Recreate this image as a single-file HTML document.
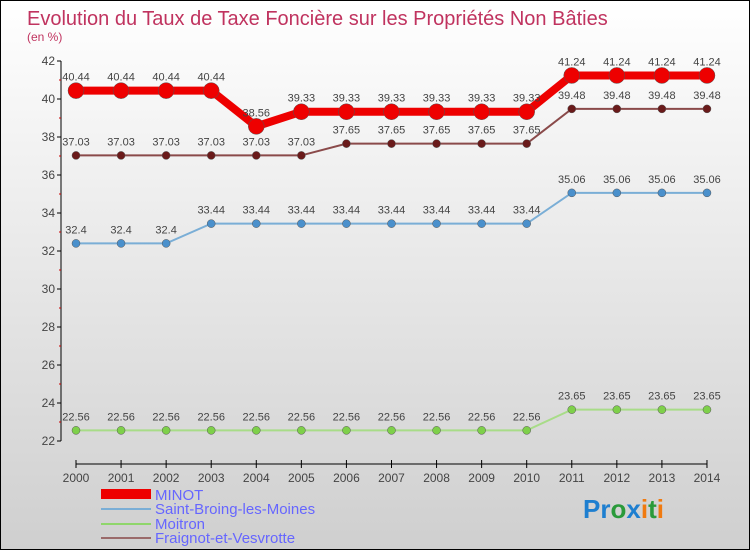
<!DOCTYPE html>
<html><head><meta charset="utf-8"><style>
body{margin:0}
#wrap{position:relative;width:748px;height:548px;border:1px solid #000;background:linear-gradient(#fff,#cfcfcf);font-family:"Liberation Sans",sans-serif;overflow:hidden}
svg text{font-family:"Liberation Sans",sans-serif}
</style></head><body>
<div id="wrap">
<svg id="chart" width="748" height="548">
<text x="26" y="24" font-size="20" fill="#c0335f">Evolution du Taux de Taxe Foncière sur les Propriétés Non Bâties</text>
<text x="26" y="40" font-size="12" fill="#c0335f">(en %)</text>
<g id="axes"></g><g id="series"></g>
<g>
<rect x="100" y="488" width="50" height="10" fill="#e00"/>
<text x="154" y="499" font-size="15" fill="#66f">MINOT</text>
<line x1="100" y1="508" x2="150" y2="508" stroke="#7aaed6" stroke-width="2"/>
<text x="154" y="513" font-size="15" fill="#66f">Saint-Broing-les-Moines</text>
<line x1="100" y1="523" x2="150" y2="523" stroke="#8fd66b" stroke-width="2"/>
<text x="154" y="528" font-size="15" fill="#66f">Moitron</text>
<line x1="100" y1="537" x2="150" y2="537" stroke="#9a6a6a" stroke-width="2"/>
<text x="154" y="542" font-size="15" fill="#66f">Fraignot-et-Vesvrotte</text>
</g>
<text x="582" y="517" font-size="26" font-weight="bold"><tspan fill="#1e7fd0">Pr</tspan><tspan fill="#2a9a3a">o</tspan><tspan fill="#1e7fd0">x</tspan><tspan fill="#f07a10">i</tspan><tspan fill="#2a9a3a">t</tspan><tspan fill="#f07a10">i</tspan></text>
</svg></div>
<script>
const years=[2000,2001,2002,2003,2004,2005,2006,2007,2008,2009,2010,2011,2012,2013,2014];
const minot=[40.44,40.44,40.44,40.44,38.56,39.33,39.33,39.33,39.33,39.33,39.33,41.24,41.24,41.24,41.24];
const saintBroing=[32.4,32.4,32.4,33.44,33.44,33.44,33.44,33.44,33.44,33.44,33.44,35.06,35.06,35.06,35.06];
const moitron=[22.56,22.56,22.56,22.56,22.56,22.56,22.56,22.56,22.56,22.56,22.56,23.65,23.65,23.65,23.65];
const fraignot=[37.03,37.03,37.03,37.03,37.03,37.03,37.65,37.65,37.65,37.65,37.65,39.48,39.48,39.48,39.48];
const yTicks=[22,24,26,28,30,32,34,36,38,40,42];
const NS="http://www.w3.org/2000/svg";
const xs=i=>75+i*45.07, ys=v=>60+(42-v)*19;
function mk(p,t,a){const e=document.createElementNS(NS,t);for(const k in a)e.setAttribute(k,a[k]);p.appendChild(e);return e;}
const ax=document.getElementById('axes');
mk(ax,'line',{x1:60,y1:ys(42),x2:60,y2:ys(22),stroke:'#000'});
mk(ax,'line',{x1:75,y1:463,x2:706,y2:463,stroke:'#000'});
yTicks.forEach(v=>{
 mk(ax,'line',{x1:56,y1:ys(v),x2:60,y2:ys(v),stroke:'#000'});
 if(v<42) mk(ax,'line',{x1:58,y1:ys(v+1),x2:60,y2:ys(v+1),stroke:'#c00'});
 const t=mk(ax,'text',{x:54,y:ys(v)+4,'font-size':12,fill:'#444','text-anchor':'end'});
 t.textContent=v;
 
 
});
years.forEach((y,i)=>{
 mk(ax,'line',{x1:xs(i),y1:459,x2:xs(i),y2:467,stroke:'#000'});
 const t=mk(ax,'text',{x:xs(i),y:481,'font-size':12,fill:'#444','text-anchor':'middle'});
 t.textContent=y;
 
 
});
const sg=document.getElementById('series');
function series(vals,color,w,r,name,dot){
 const g=mk(sg,'g',{});
 
 
 const l=mk(g,'polyline',{points:vals.map((v,i)=>xs(i)+','+ys(v)).join(' '),fill:'none',stroke:color,'stroke-width':w});
 
 
 vals.forEach((v,i)=>{
  const c=mk(g,'circle',{cx:xs(i),cy:ys(v),r:r,fill:dot,stroke:'#555','stroke-width':0.5});
  
  
  const t=mk(g,'text',{x:xs(i),y:ys(v)-10,'font-size':11,fill:'#444','text-anchor':'middle'});
  t.textContent=v;
  
  
 });
}
series(moitron,'#a8dc88',2,4,'moitron','#7ed04a');
series(saintBroing,'#7aaed6',2,4,'saint-broing','#4a90cc');
series(fraignot,'#8a4a4a',2,4,'fraignot','#6a1a1a');
series(minot,'#e00',8,8,'minot','#e00');
</script>
</body></html>
